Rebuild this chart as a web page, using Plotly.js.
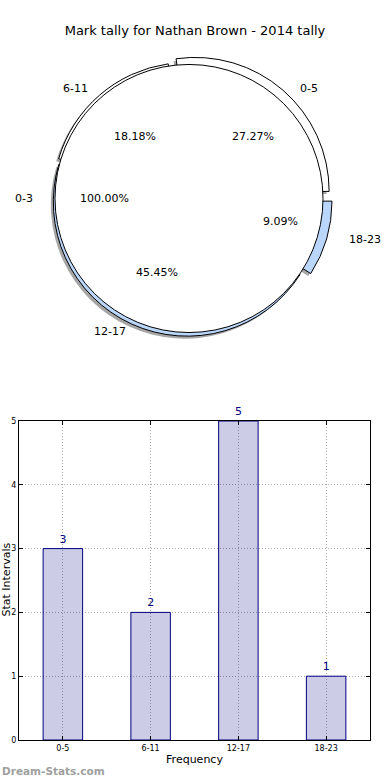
<!DOCTYPE html>
<html>
<head>
<meta charset="utf-8">
<script src="https://cdn.plot.ly/plotly-3.0.1.min.js"></script>
<style>html,body{margin:0;padding:0;background:#fff;}#chart{width:390px;height:780px;}</style>
</head>
<body>
<div id="chart"></div>
<script>
// ---- data ----
const categories = ['0-5', '6-11', '12-17', '18-23'];
const counts = [3, 2, 5, 1];
const overlayLabels = ['0-3'];
const overlayValues = [1];
const sliceColors = ['#ffffff', '#ffffff', '#bad6fb', '#bad6fb'];
const slicePull = [0.07, 0.02, 0.03, 0.07];
const yTicks = [0, 1, 2, 3, 4, 5];

// ---- geometry (pixels) ----
const W = 390, H = 780;
const cx = 189, cy = 198.5, R = 134;          // pie centre / radius
const textCx = 194;                            // text centre x
const labelRx = 159.4, labelRy = 146;          // label distance
const pctRx = 90, pctRy = 81.5;                // percentage distance
const font = 'DejaVu Sans';
const maxPull = Math.max(...slicePull);
const total = counts.reduce((a, b) => a + b, 0);
const startRot = 90 - counts[0] / total * 360; // first slice begins at 3 o'clock, counter-clockwise

function domainFor(r, dx, dy) {
  return {
    x: [(cx + dx - r) / W, (cx + dx + r) / W],
    y: [1 - (cy + dy + r) / H, 1 - (cy + dy - r) / H]
  };
}

const annotations = [];
function addPieText(label, pct, midDeg) {
  const a = midDeg * Math.PI / 180, c = Math.cos(a), s = Math.sin(a);
  const lx = textCx + labelRx * c, ly = cy - labelRy * s;
  annotations.push({x: lx / W, y: 1 - ly / H, xref: 'paper', yref: 'paper', text: label,
    showarrow: false, xanchor: c > 0.001 ? 'left' : 'right', yanchor: 'middle',
    font: {family: font, size: 11, color: '#000'}});
  const px = textCx + pctRx * c, py = cy - pctRy * s;
  annotations.push({x: px / W, y: 1 - py / H, xref: 'paper', yref: 'paper', text: pct,
    showarrow: false, xanchor: 'center', yanchor: 'middle',
    font: {family: font, size: 11, color: '#000'}});
}
let cum = 0;
counts.forEach((v, i) => {
  const mid = (cum + v / 2) / total * 360;
  addPieText(categories[i], (v / total * 100).toFixed(2) + '%', mid);
  cum += v;
});
const oTotal = overlayValues.reduce((a, b) => a + b, 0);
addPieText(overlayLabels[0], (overlayValues[0] / oTotal * 100).toFixed(2) + '%', 180);

annotations.push({x: 5.5 / W, y: 1 - 580 / H, xref: 'paper', yref: 'paper', text: 'Stat Intervals',
  textangle: -90, showarrow: false, xanchor: 'center', yanchor: 'middle',
  font: {family: font, size: 11, color: '#000'}});
annotations.push({x: 0, y: 1 - 771 / H, xref: 'paper', yref: 'paper', text: '<b>Dream-Stats.com</b>',
  showarrow: false, xanchor: 'left', yanchor: 'middle',
  font: {family: font, size: 10.5, color: '#a0a0a0'}});

const bottomR = R * (1 + maxPull);
const traces = [
  { // shadow
    type: 'pie', labels: categories, values: counts, sort: false, direction: 'counterclockwise',
    rotation: startRot, pull: slicePull, domain: domainFor(bottomR, -2.5, 2.5),
    marker: {colors: categories.map(() => 'rgba(0,0,0,0.35)'), line: {width: 0}},
    textinfo: 'none', hoverinfo: 'skip', showlegend: false
  },
  { // exploded pie
    type: 'pie', labels: categories, values: counts, sort: false, direction: 'counterclockwise',
    rotation: startRot, pull: slicePull, domain: domainFor(bottomR, 0, 0),
    marker: {colors: sliceColors, line: {color: '#000', width: 1}},
    textinfo: 'none', showlegend: false
  },
  { // overlay 100% pie
    type: 'pie', labels: overlayLabels, values: overlayValues, sort: false, direction: 'counterclockwise',
    rotation: 90, domain: domainFor(R, 0, 0),
    marker: {colors: ['#ffffff'], line: {color: '#000', width: 1}},
    textinfo: 'none', showlegend: false
  },
  {
    type: 'bar', x: categories, y: counts, width: 0.45,
    marker: {color: 'rgba(0,0,128,0.2)', line: {color: '#000080', width: 1}},
    text: counts.map(String), textposition: 'outside', cliponaxis: false,
    textfont: {family: font, size: 11, color: '#000080'},
    xaxis: 'x', yaxis: 'y', showlegend: false
  }
];

const layout = {
  width: W, height: H,
  margin: {l: 0, r: 0, t: 0, b: 0},
  paper_bgcolor: '#fff', plot_bgcolor: '#fff',
  font: {family: font, color: '#000'},
  title: {text: 'Mark tally for Nathan Brown - 2014 tally', font: {family: font, size: 13, color: '#000'},
    x: 0.5, xanchor: 'center', y: 1 - 30 / H, yanchor: 'middle'},
  xaxis: {
    domain: [19 / W, 370 / W], type: 'category', range: [-0.5, 3.5],
    showline: true, linecolor: '#000', linewidth: 1, mirror: 'ticks',
    ticks: 'inside', ticklen: 4, tickcolor: '#000',
    tickfont: {family: font, size: 8, color: '#000'},
    showgrid: true, gridcolor: '#a8a8a8', griddash: '1px,2px', gridwidth: 1,
    zeroline: false, fixedrange: true,
    title: {text: 'Frequency', font: {family: font, size: 11, color: '#000'}, standoff: 3}
  },
  yaxis: {
    domain: [1 - 740 / H, 1 - 421 / H], range: [0, 5], tickvals: yTicks,
    showline: true, linecolor: '#000', linewidth: 1, mirror: 'ticks',
    ticks: 'inside', ticklen: 4, tickcolor: '#000',
    tickfont: {family: font, size: 8, color: '#000'},
    showgrid: true, gridcolor: '#a8a8a8', griddash: '1px,2px', gridwidth: 1,
    zeroline: false, fixedrange: true
  },
  annotations: annotations
};

Plotly.newPlot('chart', traces, layout, {displayModeBar: false, staticPlot: true});
</script>
</body>
</html>
